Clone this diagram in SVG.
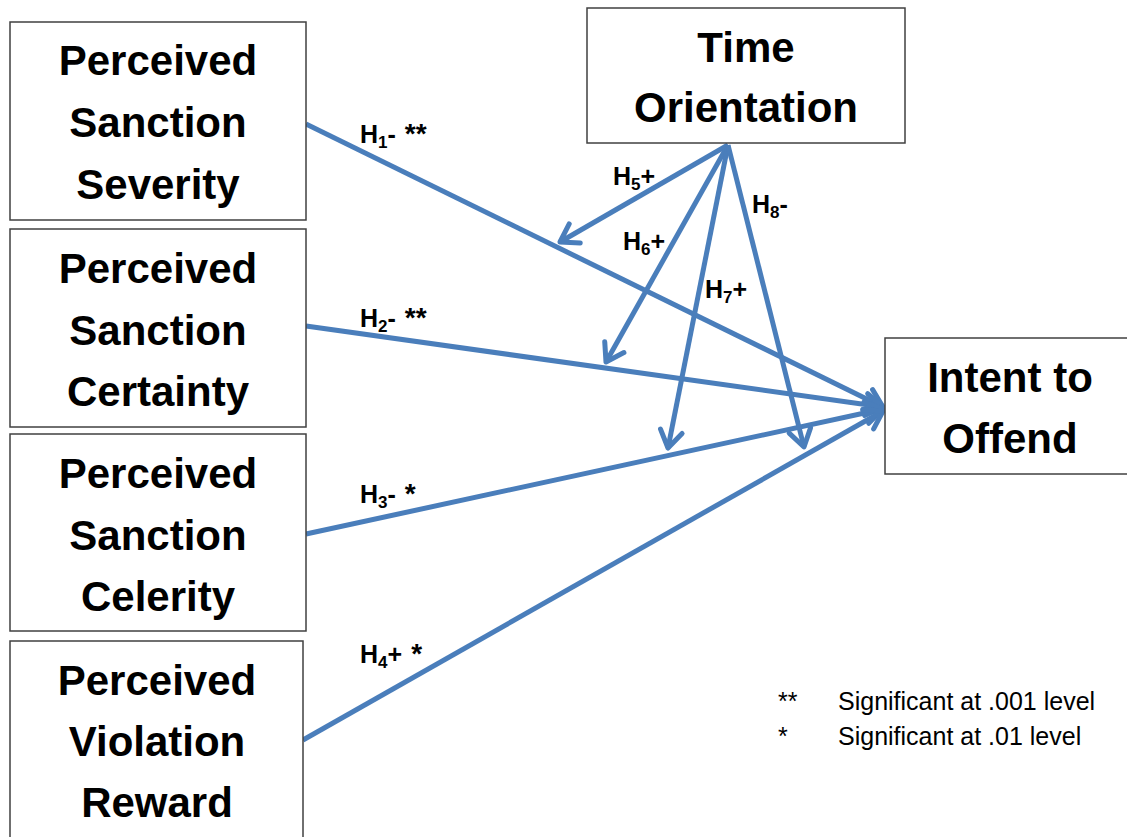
<svg xmlns="http://www.w3.org/2000/svg" width="1127" height="837" viewBox="0 0 1127 837">
<style>
.box{fill:#fff;stroke:#404040;stroke-width:1.5}
.nt{font-family:"Liberation Sans",Arial,sans-serif;font-weight:bold;font-size:42px;fill:#000;text-anchor:middle}
.lb{font-family:"Liberation Sans",Arial,sans-serif;font-weight:bold;font-size:25px;fill:#000}
.st{font-size:28px}
.lg{font-family:"Liberation Sans",Arial,sans-serif;font-size:25px;fill:#000}
.c{stroke:#4A7EBB;stroke-width:5;fill:none;marker-end:url(#ah)}
</style>
<defs>
<marker id="ah" markerUnits="userSpaceOnUse" viewBox="-22 -14 26 28" refX="0" refY="0" markerWidth="26" markerHeight="28" orient="auto">
<polyline points="-17,-11 0,0 -17,11" fill="none" stroke="#4A7EBB" stroke-width="5" stroke-linecap="round" stroke-linejoin="round"/>
</marker>
</defs>
<rect width="1127" height="837" fill="#fff"/>
<g id="connectors">
<line class="c" x1="306" y1="124" x2="883" y2="407"/>
<line class="c" x1="306" y1="326" x2="883" y2="407"/>
<line class="c" x1="306" y1="534" x2="883" y2="409"/>
<line class="c" x1="303" y1="740" x2="883" y2="411"/>
<line class="c" x1="728" y1="145" x2="560" y2="242"/>
<line class="c" x1="728" y1="145" x2="606" y2="362"/>
<line class="c" x1="728" y1="145" x2="668" y2="448"/>
<line class="c" x1="728" y1="145" x2="804" y2="447"/>
</g>
<g id="labels">
<text class="lb" x="360" y="143">H<tspan font-size="17" dy="5">1</tspan><tspan dy="-5">-</tspan><tspan class="st" dx="9">**</tspan></text>
<text class="lb" x="360" y="327">H<tspan font-size="17" dy="5">2</tspan><tspan dy="-5">-</tspan><tspan class="st" dx="9">**</tspan></text>
<text class="lb" x="360" y="503">H<tspan font-size="17" dy="5">3</tspan><tspan dy="-5">-</tspan><tspan class="st" dx="9">*</tspan></text>
<text class="lb" x="360" y="663">H<tspan font-size="17" dy="5">4</tspan><tspan dy="-5">+</tspan><tspan class="st" dx="9">*</tspan></text>
<text class="lb" x="613" y="185">H<tspan font-size="17" dy="5">5</tspan><tspan dy="-5">+</tspan></text>
<text class="lb" x="623" y="250">H<tspan font-size="17" dy="5">6</tspan><tspan dy="-5">+</tspan></text>
<text class="lb" x="705" y="298">H<tspan font-size="17" dy="5">7</tspan><tspan dy="-5">+</tspan></text>
<text class="lb" x="752" y="213">H<tspan font-size="17" dy="5">8</tspan><tspan dy="-5">-</tspan></text>
</g>
<g id="severity">
<rect class="box" x="10" y="22" width="296" height="198"/>
<text class="nt" x="158" y="75">Perceived</text>
<text class="nt" x="158" y="137">Sanction</text>
<text class="nt" x="158" y="199">Severity</text>
</g>
<g id="certainty">
<rect class="box" x="10" y="229" width="296" height="198"/>
<text class="nt" x="158" y="283">Perceived</text>
<text class="nt" x="158" y="345">Sanction</text>
<text class="nt" x="158" y="406">Certainty</text>
</g>
<g id="celerity">
<rect class="box" x="10" y="434" width="296" height="197"/>
<text class="nt" x="158" y="488">Perceived</text>
<text class="nt" x="158" y="550">Sanction</text>
<text class="nt" x="158" y="611">Celerity</text>
</g>
<g id="reward">
<rect class="box" x="10" y="641" width="293" height="210"/>
<text class="nt" x="157" y="695">Perceived</text>
<text class="nt" x="157" y="756">Violation</text>
<text class="nt" x="157" y="817">Reward</text>
</g>
<g id="time">
<rect class="box" x="587" y="8" width="318" height="135"/>
<text class="nt" x="746" y="62">Time</text>
<text class="nt" x="746" y="122">Orientation</text>
</g>
<g id="intent">
<rect class="box" x="885" y="338" width="250" height="136"/>
<text class="nt" x="1010" y="392">Intent to</text>
<text class="nt" x="1010" y="453">Offend</text>
</g>
<g id="legend">
<text class="lg" x="778" y="710">**</text>
<text class="lg" x="838" y="710">Significant at .001 level</text>
<text class="lg" x="778" y="745">*</text>
<text class="lg" x="838" y="745">Significant at .01 level</text>
</g>
</svg>
